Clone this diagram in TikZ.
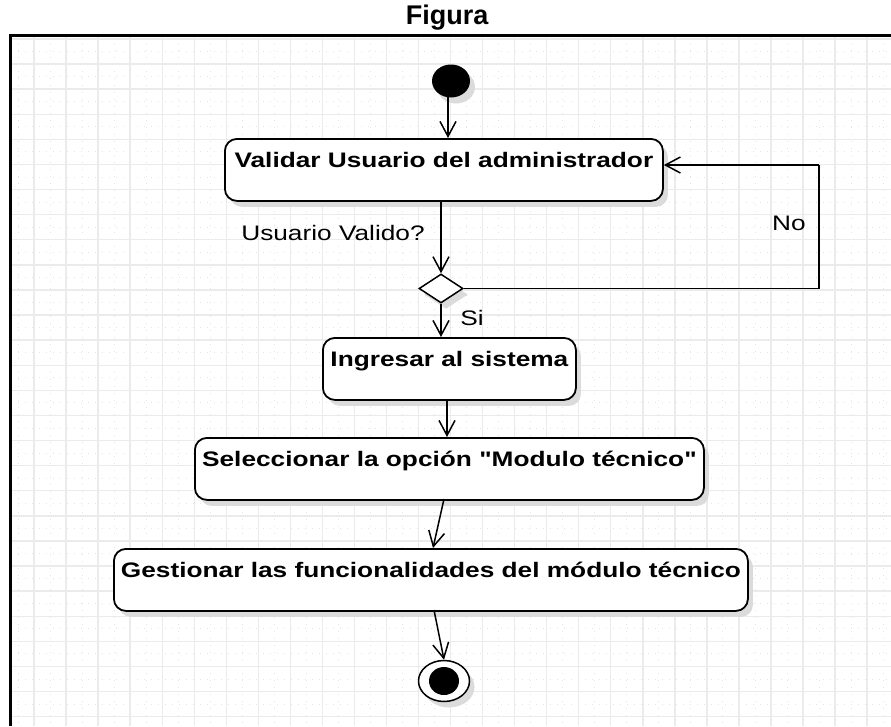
\documentclass[tikz,border=0pt]{standalone}
\usepackage{fontspec}
\usepackage{graphicx}
\setmainfont{Liberation Sans}[Ligatures=TeXOff]
\usetikzlibrary{arrows.meta,shapes.geometric,shadows}
\newcommand\widetext[1]{\scalebox{1.25}[1]{#1}}
\begin{document}
\begin{tikzpicture}[x=1pt,y=-1pt,
  gridline/.style={draw=black!8, line width=1.4pt},
  minorline/.style={draw=black!10, line width=0.8pt, dash pattern=on 1pt off 6pt},
  shade/.style={copy shadow={shadow xshift=5pt, shadow yshift=-6pt, draw=none, fill=black!14}},
  act/.style={draw=black, line width=1.8pt, rounded corners=12pt, fill=white,
    font=\bfseries\fontsize{21}{24}\selectfont, text height=29pt, text depth=33pt,
    inner xsep=0pt, inner ysep=0pt, anchor=north west, shade},
  guard/.style={font=\fontsize{21}{24}\selectfont, inner sep=0pt},
  arr/.style={draw=black, line width=1.5pt, -{Straight Barb[length=15pt, width=16pt, line width=1.5pt]}},
  flow/.style={draw=black, line width=1.8pt}
]
\useasboundingbox (0,0) rectangle (891,726);
\fill[white] (0,0) rectangle (891,726);
% grid
\begin{scope}
\clip (11,36) rectangle (891,726);
\foreach \k in {0,...,27} \draw[minorline] ({18+32.04*\k},36) -- ({18+32.04*\k},726);
\foreach \k in {0,...,28} \draw[minorline] (11,{26.35+25.1*\k}) -- (891,{26.35+25.1*\k});
\foreach \k in {1,...,27} \draw[gridline] ({2+32.04*\k},36) -- ({2+32.04*\k},726);
\foreach \k in {1,...,28} \draw[gridline] (11,{13.8+25.1*\k}) -- (891,{13.8+25.1*\k});
\end{scope}
% frame and title
\draw[line width=2.6pt] (891,35.5) -- (10.5,35.5) -- (10.5,726);
\node[font=\bfseries\fontsize{27}{30}\selectfont, inner sep=0pt] (title) at (447,18) {Figura};

% nodes
\node[ellipse, fill=black, minimum width=38pt, minimum height=33pt, inner sep=0pt, shade] (start) at (451,81) {};
\node[act, minimum width=438pt] (b1) at (224,138) {\widetext{Validar Usuario del administrador}};
\node[diamond, draw=black, line width=1.5pt, fill=white, minimum width=44pt, minimum height=29pt, inner sep=0pt, shade] (dec) at (441,288.5) {};
\node[act, minimum width=253pt] (b2) at (322,337) {\widetext{Ingresar al sistema}};
\node[act, minimum width=509pt] (b3) at (194,437) {\widetext{Seleccionar la opción "Modulo técnico"}};
\node[act, minimum width=634pt] (b4) at (113,548) {\widetext{Gestionar las funcionalidades del módulo técnico}};
\node[ellipse, draw=black, line width=1.5pt, fill=white, minimum width=51pt, minimum height=41pt, inner sep=0pt, shade] (end) at (444,681) {};
\node[ellipse, fill=black, minimum width=30pt, minimum height=28pt, inner sep=0pt] (endin) at (end.center) {};

% connectors
\coordinate (s1) at (448,97);
\draw[arr] (s1) -- (s1 |- b1.north);
\coordinate (d1) at (441,200);
\draw[arr] (d1) -- (dec.north);
\draw[arr] (dec.south) -- (dec.south |- b2.north);
\coordinate (n1) at (819,0);
\coordinate (n2) at (0,165);
\draw[flow] (dec.east) -- (dec.east -| n1) -- (n1 |- n2);
\draw[arr] (n1 |- n2) -- (b1.east |- n2);
\coordinate (e2) at (447,400);
\draw[arr] (e2) -- (e2 |- b3.north);
\coordinate (e3) at (444,499);
\coordinate (e3t) at (433,548);
\draw[arr] (e3) -- (e3t);
\coordinate (e4) at (434,610);
\draw[arr] (e4) -- (end.north);

% labels
\node[guard] (lq) at (333,233) {\widetext{Usuario Valido?}};
\node[guard] (lsi) at (472,318) {\widetext{Si}};
\node[guard] (lno) at (789,223) {\widetext{No}};
\end{tikzpicture}
\end{document}
